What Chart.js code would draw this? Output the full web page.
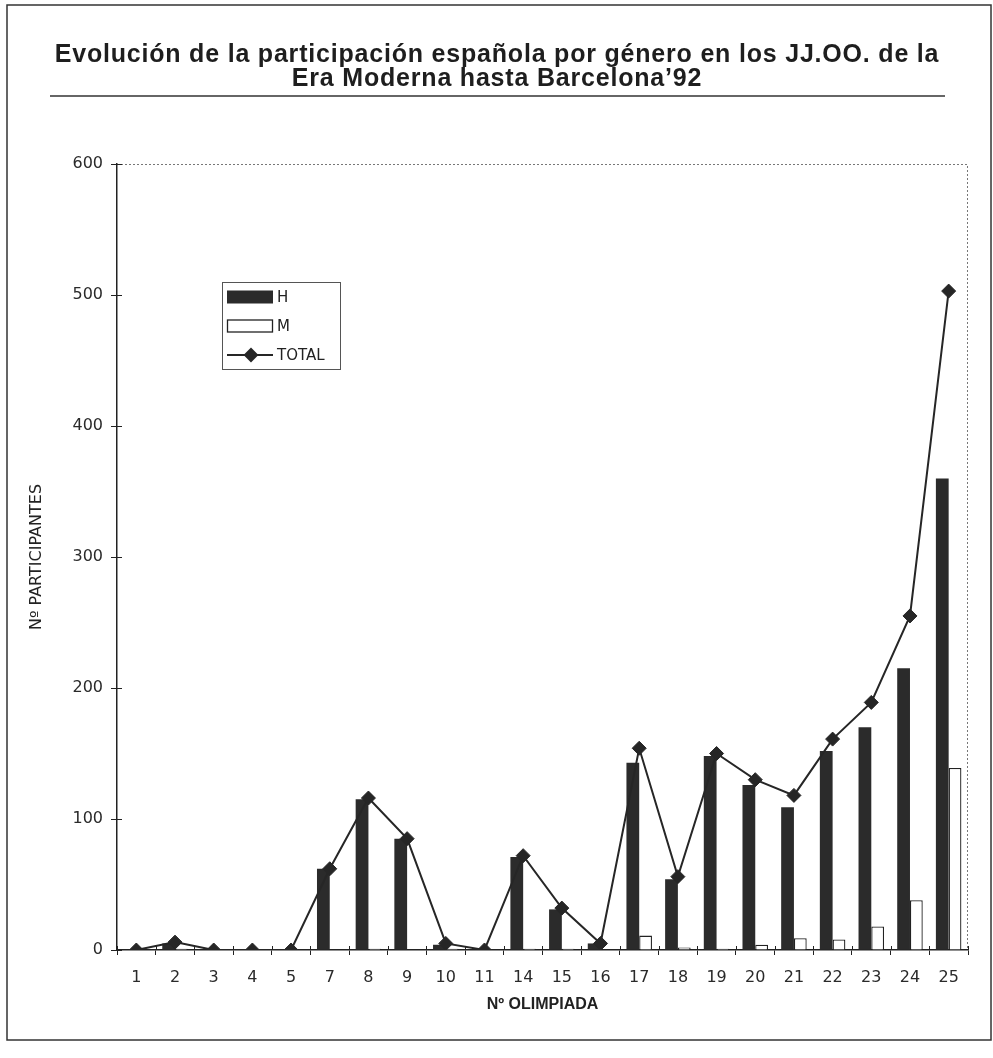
<!DOCTYPE html>
<html>
<head>
<meta charset="utf-8">
<script src="https://cdn.jsdelivr.net/npm/chart.js@4/dist/chart.umd.min.js"></script>
<style>
  html, body { margin: 0; padding: 0; background: #fff; }
  canvas { display: block; }
</style>
</head>
<body>
<canvas id="chart" width="993" height="1058"></canvas>
<script>
// Olympiad numbers (Games in which Spain's participation is recorded)
const olympiads = ['1', '2', '3', '4', '5', '7', '8', '9', '10', '11', '14', '15', '16', '17', '18', '19', '20', '21', '22', '23', '24', '25'];

// Participants per olympiad
const menValues   = [0, 5, 0, 0, 0, 62, 115, 85, 4, 0, 71, 31, 5, 143, 54, 148, 126, 109, 152, 170, 215, 360];
const womenValues = [0, 1, 0, 0, 0, 0, 1, 0, 1, 0, 1, 1, 0, 11, 2, 1, 4, 9, 8, 18, 38, 139];
const totalValues = [0, 6, 0, 0, 0, 62, 116, 85, 5, 0, 72, 32, 5, 154, 56, 150, 130, 118, 161, 189, 255, 503];

const yTicks = [0, 100, 200, 300, 400, 500, 600];

const titleLines = [
  'Evolución de la participación española por género en los JJ.OO. de la',
  'Era Moderna hasta Barcelona\u201992'
];

const INK = '#262626';

// Page frame, heading and its rule
const framePlugin = {
  id: 'frame',
  beforeDraw(chart) {
    const ctx = chart.ctx;
    ctx.save();
    ctx.fillStyle = '#fff';
    ctx.fillRect(0, 0, chart.width, chart.height);
    ctx.strokeStyle = '#333';
    ctx.lineWidth = 1.5;
    ctx.strokeRect(7, 5, 984, 1035);

    ctx.fillStyle = '#1e1e1e';
    ctx.font = 'bold 25px "Liberation Sans", Arial, sans-serif';
    ctx.textAlign = 'center';
    ctx.textBaseline = 'middle';
    ctx.letterSpacing = '0.8px';
    ctx.fillText(titleLines[0], 497, 55);
    ctx.fillText(titleLines[1], 497, 79);
    ctx.letterSpacing = '0px';

    ctx.beginPath();
    ctx.moveTo(50, 96);
    ctx.lineTo(945, 96);
    ctx.lineWidth = 1.5;
    ctx.strokeStyle = '#333';
    ctx.stroke();
    ctx.restore();
  },
  beforeDatasetsDraw(chart) {
    // dotted top and right edges of the plot area
    const { ctx, chartArea: a } = chart;
    ctx.save();
    ctx.setLineDash([2, 2]);
    ctx.strokeStyle = '#777';
    ctx.lineWidth = 1;
    ctx.beginPath();
    ctx.moveTo(a.left, a.top + 0.5);
    ctx.lineTo(a.right - 0.5, a.top + 0.5);
    ctx.lineTo(a.right - 0.5, a.bottom);
    ctx.stroke();
    ctx.restore();
  },
  afterDraw(chart) {
    const { ctx, chartArea: a } = chart;
    const xs = chart.scales.x, ys = chart.scales.y;
    ctx.save();
    ctx.strokeStyle = '#222';
    ctx.lineWidth = 1;
    // tick marks that cross into the plot area
    ctx.beginPath();
    yTicks.forEach(v => {
      const y = Math.round(ys.getPixelForValue(v)) + 0.5;
      ctx.moveTo(a.left, y);
      ctx.lineTo(a.left + 5, y);
    });
    const n = olympiads.length;
    for (let i = 0; i <= n; i++) {
      const x = Math.round(xs.getPixelForValue(i) - (xs.width / n) / 2) + 0.5;
      ctx.moveTo(x, a.bottom);
      ctx.lineTo(x, a.bottom - 4);
    }
    ctx.stroke();

    // legend box
    const box = { x: 222, y: 282, w: 118, h: 87 };
    ctx.strokeStyle = '#555';
    ctx.lineWidth = 1;
    ctx.strokeRect(box.x + 0.5, box.y + 0.5, box.w, box.h);

    const ds = chart.data.datasets;
    const byLabel = l => ds.find(d => d.label === l);
    const rows = [
      { d: byLabel('H'), y: 297 },
      { d: byLabel('M'), y: 326 },
      { d: byLabel('TOTAL'), y: 355 }
    ];
    ctx.font = '15px "DejaVu Sans", sans-serif';
    ctx.textAlign = 'left';
    ctx.textBaseline = 'middle';
    rows.forEach(r => {
      const d = r.d;
      if (d.type === 'line') {
        ctx.strokeStyle = d.borderColor;
        ctx.lineWidth = 2;
        ctx.beginPath();
        ctx.moveTo(227, r.y);
        ctx.lineTo(273, r.y);
        ctx.stroke();
        Chart.helpers.drawPoint(ctx, { pointStyle: 'rectRot', radius: 6, borderWidth: 1 }, 251, r.y);
        ctx.fillStyle = d.backgroundColor;
        ctx.fill();
      } else {
        ctx.fillStyle = d.backgroundColor;
        ctx.fillRect(227, r.y - 6.5, 46, 13);
        if (d.borderWidth) {
          ctx.strokeStyle = d.borderColor;
          ctx.lineWidth = 1.3;
          ctx.strokeRect(227.5, r.y - 6, 45, 12);
        }
      }
      ctx.fillStyle = '#222';
      ctx.fillText(d.label, 277, r.y + 1);
    });
    ctx.restore();
  }
};

new Chart(document.getElementById('chart').getContext('2d'), {
  type: 'bar',
  data: {
    labels: olympiads,
    datasets: [
      {
        type: 'line',
        label: 'TOTAL',
        data: totalValues,
        borderColor: INK,
        backgroundColor: INK,
        borderWidth: 2,
        pointStyle: 'rectRot',
        pointRadius: 7,
        pointHoverRadius: 7,
        pointBorderWidth: 1,
        tension: 0,
        order: 0
      },
      {
        label: 'H',
        data: menValues,
        backgroundColor: '#2b2b2b',
        borderWidth: 0,
        order: 1
      },
      {
        label: 'M',
        data: womenValues,
        backgroundColor: '#ffffff',
        borderColor: '#222',
        borderWidth: 1.3,
        order: 1
      }
    ]
  },
  options: {
    responsive: false,
    animation: false,
    devicePixelRatio: 1,
    layout: { padding: { left: 27, right: 25, top: 164, bottom: 44 } },
    datasets: { bar: { categoryPercentage: 0.66, barPercentage: 1 } },
    plugins: {
      legend: { display: false },
      tooltip: { enabled: false },
      title: { display: false }
    },
    scales: {
      x: {
        grid: { offset: true, drawOnChartArea: false, tickLength: 5, color: '#222', lineWidth: 1 },
        border: { color: '#222', width: 1.5 },
        ticks: {
          font: { family: 'DejaVu Sans', size: 16 },
          color: '#2a2a2a',
          padding: 13,
          maxRotation: 0,
          autoSkip: false
        },
        title: {
          display: true,
          text: 'Nº OLIMPIADA',
          font: { family: 'Liberation Sans', weight: 'bold', size: 16 },
          color: '#222',
          padding: 0
        },
        afterFit(scale) { scale.height = 64; }
      },
      y: {
        min: 0,
        max: 600,
        afterBuildTicks(scale) { scale.ticks = yTicks.map(v => ({ value: v })); },
        grid: { drawOnChartArea: false, tickLength: 6, color: '#222', lineWidth: 1 },
        border: { color: '#222', width: 1.5 },
        ticks: {
          font: { family: 'DejaVu Sans', size: 16 },
          color: '#2a2a2a',
          padding: 8
        },
        title: {
          display: true,
          text: 'Nº PARTICIPANTES',
          font: { family: 'DejaVu Sans', size: 16 },
          color: '#222',
          padding: 0
        },
        afterFit(scale) { scale.width = 90; }
      }
    }
  },
  plugins: [framePlugin]
});
</script>
</body>
</html>
